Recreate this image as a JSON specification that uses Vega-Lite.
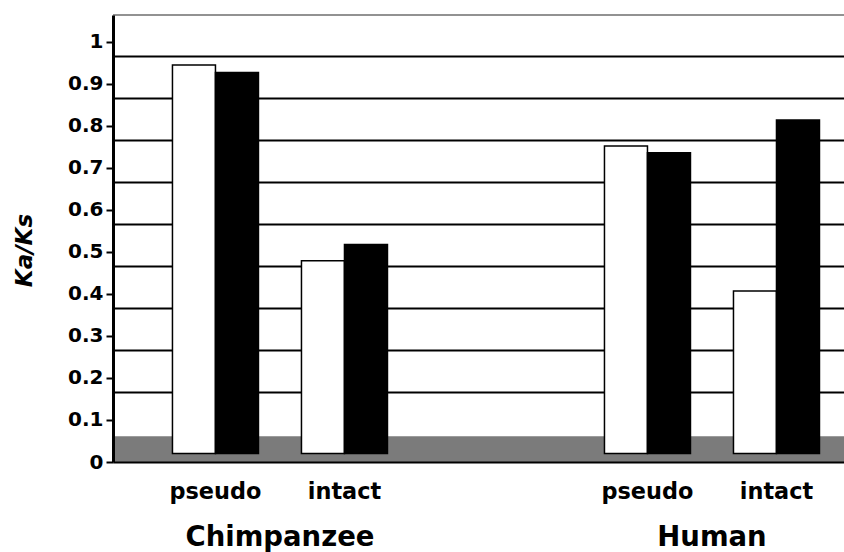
{
  "$schema": "https://vega.github.io/schema/vega-lite/v6.json",
  "width": 731,
  "height": 447,
  "autosize": {"type": "none"},
  "padding": {"left": 113, "top": 15, "right": 0, "bottom": 90},
  "background": "white",
  "config": {"view": {"stroke": null}, "font": "DejaVu Sans"},
  "datasets": {
    "bars": [
      {"species": "Chimpanzee", "type": "pseudo", "series": "white", "key": "pseudo white", "value": 0.945},
      {"species": "Chimpanzee", "type": "pseudo", "series": "black", "key": "pseudo black", "value": 0.927},
      {"species": "Chimpanzee", "type": "intact", "series": "white", "key": "intact white", "value": 0.479},
      {"species": "Chimpanzee", "type": "intact", "series": "black", "key": "intact black", "value": 0.518},
      {"species": "Human", "type": "pseudo", "series": "white", "key": "pseudo white", "value": 0.752},
      {"species": "Human", "type": "pseudo", "series": "black", "key": "pseudo black", "value": 0.736},
      {"species": "Human", "type": "intact", "series": "white", "key": "intact white", "value": 0.407},
      {"species": "Human", "type": "intact", "series": "black", "key": "intact black", "value": 0.814}
    ],
    "pairs": [
      {"species": "Chimpanzee", "type": "pseudo"},
      {"species": "Chimpanzee", "type": "intact"},
      {"species": "Human", "type": "pseudo"},
      {"species": "Human", "type": "intact"}
    ]
  },
  "layer": [
    {
      "data": {"values": [{}]},
      "mark": {"type": "rect", "fill": "#7b7b7b"},
      "encoding": {
        "y": {
          "datum": 0,
          "type": "quantitative",
          "scale": {"domain": [0, 1.064], "nice": false},
          "axis": {
            "orient": "right",
            "grid": true,
            "gridColor": "#000000",
            "gridWidth": 1.8,
            "tickOffset": 14,
            "values": [0.2, 0.3, 0.4, 0.5, 0.6, 0.7, 0.8, 0.9, 1],
            "labels": false,
            "ticks": false,
            "domain": false,
            "title": null
          }
        },
        "y2": {"datum": 0.0612}
      }
    },
    {
      "data": {"name": "bars"},
      "mark": {"type": "bar", "stroke": "#000000", "strokeWidth": 1.5},
      "encoding": {
        "x": {
          "field": "species",
          "type": "nominal",
          "scale": {"domain": ["Chimpanzee", "Human"], "paddingInner": 0.5023, "paddingOuter": 0.0972, "align": 0.708},
          "axis": {
            "orient": "bottom",
            "domainColor": "#000000",
            "domainWidth": 2,
            "ticks": false,
            "tickSize": 0,
            "labelAngle": 0,
            "labelLimit": 0,
            "labelPadding": 83,
            "labelBaseline": "alphabetic",
            "labelFont": "DejaVu Sans",
            "labelFontWeight": "bold",
            "labelFontSize": 27.5,
            "labelColor": "#000000",
            "title": null,
            "zindex": 1
          }
        },
        "xOffset": {
          "field": "key",
          "type": "nominal",
          "scale": {"domain": ["pseudo white", "pseudo black", "gap", "intact white", "intact black"], "paddingInner": 0, "paddingOuter": 0}
        },
        "y": {
          "field": "value",
          "type": "quantitative",
          "scale": {"domain": [0, 1.064], "nice": false},
          "axis": {
            "orient": "left",
            "values": [0, 0.1, 0.2, 0.3, 0.4, 0.5, 0.6, 0.7, 0.8, 0.9, 1],
            "format": "~g",
            "grid": false,
            "domainColor": "#000000",
            "domainWidth": 3,
            "tickColor": "#000000",
            "tickWidth": 2,
            "tickSize": 7,
            "labelPadding": 3,
            "labelFont": "DejaVu Sans",
            "labelFontWeight": "bold",
            "labelFontSize": 20,
            "labelColor": "#000000",
            "title": "Ka/Ks",
            "titleFont": "DejaVu Sans",
            "titleFontStyle": "italic",
            "titleFontWeight": "bold",
            "titleFontSize": 23,
            "titleColor": "#000000",
            "titleAngle": -90,
            "titleAlign": "center",
            "titleBaseline": "alphabetic",
            "titleX": -82,
            "titleY": 235,
            "zindex": 1
          }
        },
        "y2": {"datum": 0.02},
        "fill": {
          "field": "series",
          "type": "nominal",
          "scale": {"domain": ["white", "black"], "range": ["#ffffff", "#000000"]},
          "legend": null
        }
      }
    },
    {
      "data": {"name": "pairs"},
      "mark": {"type": "text", "font": "DejaVu Sans", "fontWeight": "bold", "fontSize": 22.4, "baseline": "alphabetic", "align": "center", "dy": 36.6, "color": "#000000"},
      "encoding": {
        "x": {"field": "species", "type": "nominal"},
        "xOffset": {
          "field": "type",
          "type": "nominal",
          "scale": {"type": "point", "domain": ["pseudo", "intact"], "padding": 0.3333}
        },
        "y": {"datum": 0, "type": "quantitative", "axis": null},
        "text": {"field": "type"}
      }
    },
    {
      "data": {"values": [{}]},
      "mark": {"type": "rule", "color": "#6e6e6e", "strokeWidth": 1.5},
      "encoding": {
        "y": {"datum": 1.064, "type": "quantitative", "axis": null}
      }
    }
  ],
  "resolve": {"scale": {"xOffset": "independent"}, "axis": {"y": "independent"}}
}
